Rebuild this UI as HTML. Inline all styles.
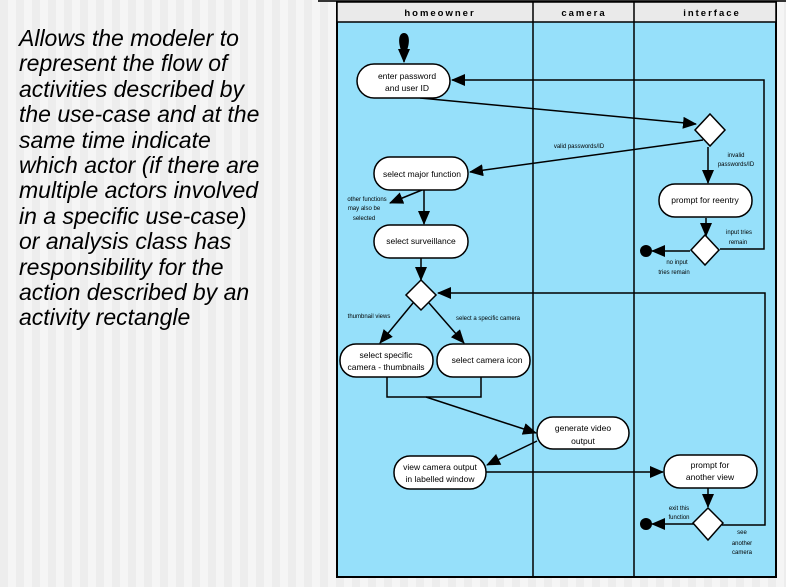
<!DOCTYPE html>
<html><head><meta charset="utf-8"><style>
html,body{margin:0;padding:0}
body{width:786px;height:587px;overflow:hidden;position:relative;background:repeating-linear-gradient(90deg,#ededed 0 8px,#f5f5f5 8px 16px);font-family:"Liberation Sans",sans-serif}
.t{position:absolute;left:19px;top:26px;font-style:italic;font-size:23px;line-height:25.4px;color:#000;width:320px;white-space:nowrap}
svg{position:absolute;left:0;top:0}
</style></head><body>
<div class="t">Allows the modeler to<br>represent the flow of<br>activities described by<br>the use-case and at the<br>same time indicate<br>which actor (if there are<br>multiple actors involved<br>in a specific use-case)<br>or analysis class has<br>responsibility for the<br>action described by an<br>activity rectangle</div>
<svg width="786" height="587" viewBox="0 0 786 587" font-family="Liberation Sans, sans-serif">
<defs><marker id="a" markerWidth="14" markerHeight="12" refX="13" refY="6" orient="auto" markerUnits="userSpaceOnUse"><path d="M0,0 L14,6 L0,12 Z" fill="#000"/></marker></defs>
<rect x="318" y="0" width="468" height="2" fill="#333"/>
<rect x="337" y="2" width="439" height="575" fill="#96e0fa" stroke="#000" stroke-width="2"/>
<rect x="337" y="2" width="439" height="20" fill="#eaeaea" stroke="#000" stroke-width="1.5"/>
<line x1="533" y1="2" x2="533" y2="577" stroke="#000" stroke-width="1.5"/>
<line x1="634" y1="2" x2="634" y2="577" stroke="#000" stroke-width="1.5"/>
<g font-size="9.5" font-weight="bold" letter-spacing="2" text-anchor="middle">
<text x="440" y="16">homeowner</text><text x="584" y="16">camera</text><text x="712" y="16">interface</text></g>
<g stroke="#000" stroke-width="1.5" fill="none">
<path d="M404,37 L404,62" marker-end="url(#a)"/>
<path d="M420,98 L696,124" marker-end="url(#a)"/>
<path d="M703,140 L470,172" marker-end="url(#a)"/>
<path d="M708,147 L708,183" marker-end="url(#a)"/>
<path d="M422,190 L390,203" marker-end="url(#a)"/>
<path d="M424,190 L424,224" marker-end="url(#a)"/>
<path d="M706,218 L706,236" marker-end="url(#a)"/>
<path d="M690,251 L652,251" marker-end="url(#a)"/>
<path d="M720,249 L764,249 L764,80 L452,80" marker-end="url(#a)"/>
<path d="M421,258 L421,280" marker-end="url(#a)"/>
<path d="M413,303 L380,343" marker-end="url(#a)"/>
<path d="M429,303 L464,343" marker-end="url(#a)"/>
<path d="M387,377 L387,397 L481,397 L481,377"/>
<path d="M426,397 L536,433" marker-end="url(#a)"/>
<path d="M537,441 L487,465" marker-end="url(#a)"/>
<path d="M486,472 L663,472" marker-end="url(#a)"/>
<path d="M708,488 L708,507" marker-end="url(#a)"/>
<path d="M694,524 L652,524" marker-end="url(#a)"/>
<path d="M722,525 L765,525 L765,293 L438,293" marker-end="url(#a)"/>
</g>
<path d="M404,33 C398,33 397,44 404,57 C411,44 410,33 404,33Z" fill="#000"/>
<g fill="#000"><circle cx="646" cy="251" r="6"/><circle cx="646" cy="524" r="6"/></g>
<g fill="#fff" stroke="#000" stroke-width="1.5">
<rect x="357" y="64" width="93" height="34" rx="17"/>
<rect x="374" y="157" width="94" height="33" rx="16"/>
<rect x="374" y="225" width="94" height="33" rx="16"/>
<rect x="659" y="184" width="93" height="33" rx="16"/>
<rect x="340" y="344" width="93" height="33" rx="16"/>
<rect x="437" y="344" width="93" height="33" rx="16"/>
<rect x="537" y="417" width="92" height="32" rx="16"/>
<rect x="394" y="456" width="92" height="33" rx="16"/>
<rect x="664" y="455" width="93" height="33" rx="16"/>
<path d="M710,114 L725,130 L710,146 L695,130Z"/>
<path d="M705,235 L719,250 L705,265 L691,250Z"/>
<path d="M421,280 L436,295 L421,310 L406,295Z"/>
<path d="M708,508 L723,523 L708,540 L693,523Z"/>
</g>
<g font-size="8.5" text-anchor="middle" fill="#000">
<text x="407" y="79">enter password</text><text x="407" y="91">and user ID</text>
<text x="422" y="177">select major function</text>
<text x="421" y="244">select surveillance</text>
<text x="705" y="203">prompt for reentry</text>
<text x="386" y="358">select specific</text><text x="386" y="370">camera - thumbnails</text>
<text x="487" y="363">select camera icon</text>
<text x="583" y="431">generate video</text><text x="583" y="444">output</text>
<text x="440" y="470">view camera output</text><text x="440" y="482">in labelled window</text>
<text x="710" y="468">prompt for</text><text x="710" y="480">another view</text>
</g>
<g font-size="6" fill="#000" text-anchor="middle">
<text x="579" y="148">valid passwords/ID</text>
<text x="736" y="157">invalid</text><text x="736" y="166">passwords/ID</text>
<text x="367" y="201">other functions</text><text x="364" y="210">may also be</text><text x="364" y="220">selected</text>
<text x="739" y="234">input tries</text><text x="738" y="244">remain</text>
<text x="677" y="264">no input</text><text x="674" y="274">tries remain</text>
<text x="369" y="318">thumbnail views</text>
<text x="488" y="320">select a specific camera</text>
<text x="679" y="510">exit this</text><text x="679" y="519">function</text>
<text x="742" y="534">see</text><text x="742" y="545">another</text><text x="742" y="554">camera</text>
</g>
</svg>
</body></html>
